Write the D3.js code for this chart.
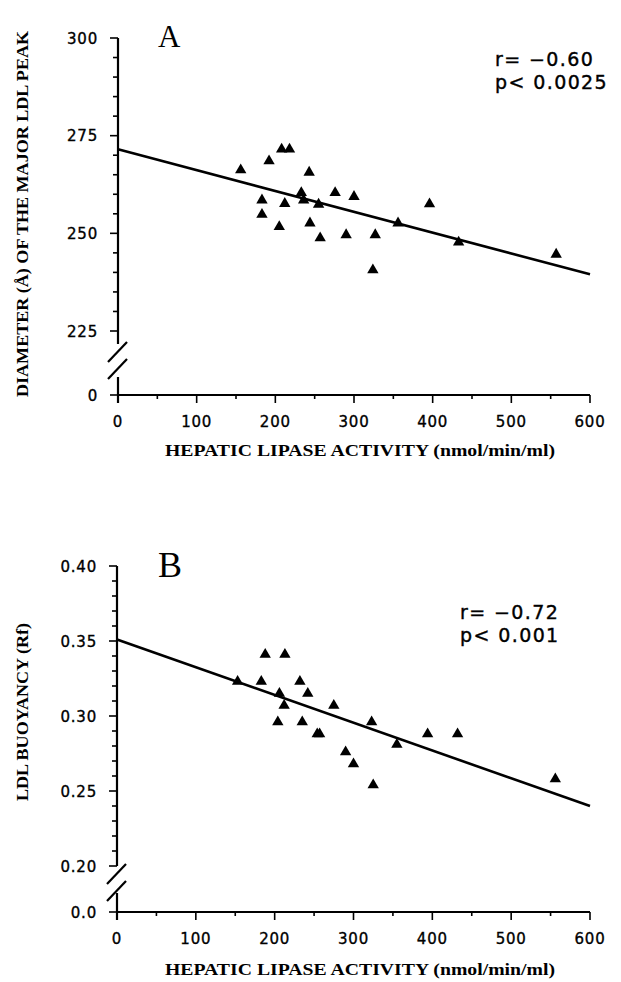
<!DOCTYPE html>
<html>
<head>
<meta charset="utf-8">
<script src="https://cdn.jsdelivr.net/npm/d3@7"></script>
<style>
  body { margin: 0; background: #fff; }
  .tick-label { font-family: "DejaVu Sans", sans-serif; font-size: 15px; letter-spacing: 0.8px; fill: #000; stroke: #000; stroke-width: 0.35px; }
  .title { font-family: "Liberation Serif", serif; font-weight: bold; font-size: 16px; fill: #000; }
  .panel-letter { font-family: "Liberation Serif", serif; fill: #000; }
  .stat { font-family: "DejaVu Sans", sans-serif; font-size: 19px; letter-spacing: 1.4px; fill: #000; stroke: #000; stroke-width: 0.4px; }
</style>
</head>
<body>
<div id="chart"></div>
<script>
// hepatic lipase activity vs LDL peak diameter (panel A)
var activityA = [156, 192, 208, 218, 243, 183, 183, 212, 205, 233, 236, 255, 244, 257, 276, 290, 300, 327, 324, 356, 396, 433, 557];
var diameterA = [266.2, 268.5, 271.5, 271.5, 265.6, 258.5, 254.8, 257.6, 251.7, 260.4, 258.5, 257.4, 252.6, 248.8, 260.4, 249.6, 259.4, 249.6, 240.6, 252.6, 257.5, 247.7, 244.6];
var fitA = [[0, 271.5], [600, 239.5]];
var yTicksA = [225, 250, 275, 300];
var yLabelsA = ["225", "250", "275", "300"];

// hepatic lipase activity vs LDL buoyancy (panel B)
var activityB = [153, 183, 188, 213, 232, 242, 206, 212, 275, 204, 235, 254, 257, 323, 290, 300, 325, 355, 394, 432, 556];
var rfB = [0.323, 0.323, 0.341, 0.341, 0.323, 0.315, 0.315, 0.307, 0.307, 0.296, 0.296, 0.288, 0.288, 0.296, 0.276, 0.268, 0.254, 0.281, 0.288, 0.288, 0.258];
var fitB = [[0, 0.351], [600, 0.240]];
var yTicksB = [0.20, 0.25, 0.30, 0.35, 0.40];
var yLabelsB = ["0.20", "0.25", "0.30", "0.35", "0.40"];

var xTicks = [0, 100, 200, 300, 400, 500, 600];
var xTitle = "HEPATIC LIPASE ACTIVITY (nmol/min/ml)";

var svg = d3.select("#chart").append("svg")
	.attr("width", 621)
	.attr("height", 982);

function drawPanel(p){
	var g = svg.append("g");
	var x = d3.scaleLinear().domain([0, 600]).range([p.left, 590]);
	var y = d3.scaleLinear().domain(p.yDomain).range([p.yBottom, p.yTop]);

	// x axis
	g.append("line")
		.attr("x1", x(0)).attr("x2", x(600))
		.attr("y1", p.zeroY).attr("y2", p.zeroY)
		.attr("stroke", "#000").attr("stroke-width", 2.2);
	d3.range(0, 601, 50).forEach(function(v){
		g.append("line")
			.attr("x1", x(v)).attr("x2", x(v))
			.attr("y1", p.zeroY).attr("y2", p.zeroY + (v % 100 == 0 ? 8 : 4))
			.attr("stroke", "#000").attr("stroke-width", 1.6);
	});
	g.selectAll(".xlab").data(xTicks).enter().append("text")
		.attr("class", "tick-label")
		.attr("x", function(d){return x(d);})
		.attr("y", p.zeroY + 32)
		.attr("text-anchor", "middle")
		.text(function(d){return d;});
	g.append("text")
		.attr("class", "title")
		.attr("x", 360).attr("y", p.zeroY + p.xTitleDy)
		.attr("text-anchor", "middle")
		.attr("textLength", 390).attr("lengthAdjust", "spacingAndGlyphs")
		.text(xTitle);

	// y axis, split by the break
	var x0 = x(0);
	g.append("line")
		.attr("x1", x0).attr("x2", x0)
		.attr("y1", p.yTop).attr("y2", p.breakTop)
		.attr("stroke", "#000").attr("stroke-width", 2.2);
	g.append("line")
		.attr("x1", x0).attr("x2", x0)
		.attr("y1", p.breakBottom).attr("y2", p.zeroY + 8)
		.attr("stroke", "#000").attr("stroke-width", 2.2);
	var minorStep = (p.yDomain[1] - p.yDomain[0]) / p.minorCount;
	d3.range(p.minorCount + 1).forEach(function(i){
		var v = p.yDomain[0] + i * minorStep;
		var major = i % 5 == 0;
		g.append("line")
			.attr("x1", x0 - (major ? 8 : 5)).attr("x2", x0)
			.attr("y1", y(v)).attr("y2", y(v))
			.attr("stroke", "#000").attr("stroke-width", 1.6);
	});
	g.append("line")
		.attr("x1", x0 - 8).attr("x2", x0)
		.attr("y1", p.zeroY).attr("y2", p.zeroY)
		.attr("stroke", "#000").attr("stroke-width", 1.6);
	g.selectAll(".ylab").data(p.yTicks).enter().append("text")
		.attr("class", "tick-label")
		.attr("x", p.left - 20)
		.attr("y", function(d){return y(d) + 5.5;})
		.attr("text-anchor", "end")
		.text(function(d, i){return p.yLabels[i];});
	g.append("text")
		.attr("class", "tick-label")
		.attr("x", p.left - 20)
		.attr("y", p.zeroY + 5.5)
		.attr("text-anchor", "end")
		.text(p.zeroLabel);

	// axis break marks
	[0, 1].forEach(function(k){
		var yb = p.breakTop + 18 + k * 17;
		g.append("line")
			.attr("x1", x0 - 10).attr("x2", x0 + 9)
			.attr("y1", yb).attr("y2", yb - 20)
			.attr("stroke", "#000").attr("stroke-width", 2.2);
	});

	// y title
	g.append("text")
		.attr("class", "title")
		.attr("transform", "translate(" + 28 + "," + p.titleY + ") rotate(-90)")
		.attr("text-anchor", "middle")
		.attr("textLength", p.titleLen).attr("lengthAdjust", "spacingAndGlyphs")
		.text(p.yTitle);

	// regression line
	g.append("line")
		.attr("x1", x(p.fit[0][0])).attr("y1", y(p.fit[0][1]))
		.attr("x2", x(p.fit[1][0])).attr("y2", y(p.fit[1][1]))
		.attr("stroke", "#000").attr("stroke-width", 2.6);

	// points
	var tri = d3.symbol().type(d3.symbolTriangle).size(56);
	g.selectAll(".pt").data(p.xs).enter().append("path")
		.attr("d", tri)
		.attr("transform", function(d, i){return "translate(" + x(d) + "," + y(p.ys[i]) + ")";})
		.attr("fill", "#000");

	// panel letter and stats
	g.append("text").attr("class", "panel-letter")
		.attr("x", 158).attr("y", p.letterY)
		.attr("font-size", p.letterSize)
		.text(p.letter);
	g.append("text").attr("class", "stat")
		.attr("x", p.statX).attr("y", p.statY)
		.text(p.r);
	g.append("text").attr("class", "stat")
		.attr("x", p.statX).attr("y", p.statY + 23)
		.text(p.pval);
}

drawPanel({
	left: 118, yDomain: [225, 300], yTop: 38, yBottom: 331, zeroY: 395,
	breakTop: 344, breakBottom: 377, minorCount: 15, xTitleDy: 61,
	yTicks: yTicksA, yLabels: yLabelsA, zeroLabel: "0",
	yTitle: "DIAMETER (\u00C5) OF THE MAJOR LDL PEAK", titleY: 214, titleLen: 366,
	xs: activityA, ys: diameterA, fit: fitA,
	letter: "A", letterY: 47, letterSize: 31, statX: 495, statY: 66, r: "r= \u22120.60", pval: "p< 0.0025"
});

drawPanel({
	left: 117, yDomain: [0.20, 0.40], yTop: 566, yBottom: 866, zeroY: 912,
	breakTop: 866, breakBottom: 893, minorCount: 20, xTitleDy: 63,
	yTicks: yTicksB, yLabels: yLabelsB, zeroLabel: "0.0",
	yTitle: "LDL BUOYANCY (Rf)", titleY: 712, titleLen: 178,
	xs: activityB, ys: rfB, fit: fitB,
	letter: "B", letterY: 577, letterSize: 36, statX: 460, statY: 619, r: "r= \u22120.72", pval: "p< 0.001"
});
</script>
</body>
</html>
